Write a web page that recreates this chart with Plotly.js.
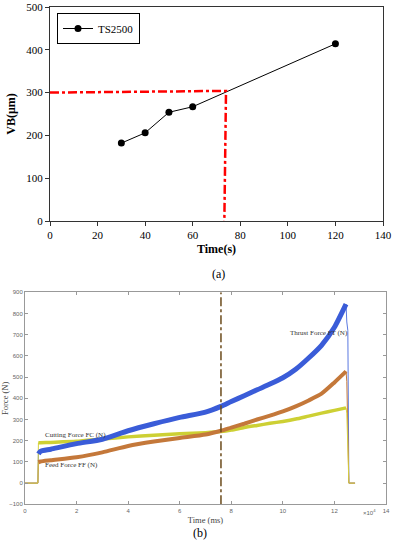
<!DOCTYPE html>
<html>
<head>
<meta charset="utf-8">
<script src="https://cdn.plot.ly/plotly-3.0.1.min.js"></script>
<style>html,body{margin:0;padding:0;background:#fff;}#chart{width:396px;height:550px;}</style>
</head>
<body>
<div id="chart"></div>
<script>
// ---- (a) tool wear ----
const wearTime = [30, 40, 50, 60, 120];
const wearVB = [182, 206, 254, 267, 414];
const limitX = [0, 74, 73.3];
const limitY = [300, 304, 0];

// ---- (b) force signals ----
const forceTime = [0, 0.5, 0.52, 0.6, 1, 2, 3, 4, 5, 6, 7, 7.6, 8, 8.5, 9, 9.5, 10, 10.5, 11, 11.5, 12, 12.45, 12.48, 12.52, 12.56, 12.8];
const thrustForce = [0, 0, 138, 150, 160, 186, 207, 247, 280, 310, 335, 362, 385, 412, 440, 467, 497, 537, 590, 650, 735, 844, 760, 720, 0, 0];
const feedForce   = [0, 0, 98, 102, 108, 122, 145, 175, 196, 213, 229, 247, 262, 280, 300, 318, 338, 362, 390, 422, 475, 527, 480, 300, 0, 0];
const cutForce    = [0, 0, 190, 190, 192, 197, 208, 218, 226, 233, 238, 243, 250, 262, 272, 282, 291, 302, 316, 330, 343, 355, 330, 200, 0, 0];
const markerTime = [7.6, 7.6];
const markerForce = [-100, 900];

// cutting phase (thick band) runs from index 2 to 21 of the force arrays
const cutStart = 2, cutEnd = 22;
const sl = a => a.slice(cutStart, cutEnd);

const serif = 'Liberation Serif, Times New Roman, serif';
const sans = 'Liberation Sans, Arial, sans-serif';

const traces = [
  {x: wearTime, y: wearVB, type: 'scatter', mode: 'lines+markers', name: 'TS2500',
   line: {color: '#000', width: 1}, marker: {color: '#000', size: 7}, xaxis: 'x', yaxis: 'y', showlegend: true},
  {x: limitX, y: limitY, type: 'scatter', mode: 'lines', line: {color: '#ff0000', width: 2.5, dash: 'dashdot'},
   xaxis: 'x', yaxis: 'y', showlegend: false, hoverinfo: 'skip'},
  // thin full signals
  {x: forceTime, y: thrustForce, type: 'scatter', mode: 'lines', line: {color: '#5a78e0', width: 1},
   xaxis: 'x2', yaxis: 'y2', showlegend: false, hoverinfo: 'skip'},
  {x: forceTime, y: feedForce, type: 'scatter', mode: 'lines', line: {color: '#c4783a', width: 1},
   xaxis: 'x2', yaxis: 'y2', showlegend: false, hoverinfo: 'skip'},
  {x: forceTime, y: cutForce, type: 'scatter', mode: 'lines', line: {color: '#d6d040', width: 1},
   xaxis: 'x2', yaxis: 'y2', showlegend: false, hoverinfo: 'skip'},
  // thick cutting-phase bands
  {x: sl(forceTime), y: sl(cutForce), type: 'scatter', mode: 'lines', name: 'Cutting Force FC (N)',
   line: {color: '#cdd034', width: 3.5, shape: 'spline', smoothing: 0.6}, xaxis: 'x2', yaxis: 'y2', showlegend: false},
  {x: sl(forceTime), y: sl(feedForce), type: 'scatter', mode: 'lines', name: 'Feed Force FF (N)',
   line: {color: '#c4783a', width: 4, shape: 'spline', smoothing: 0.6}, xaxis: 'x2', yaxis: 'y2', showlegend: false},
  {x: sl(forceTime), y: sl(thrustForce), type: 'scatter', mode: 'lines', name: 'Thrust Force FT (N)',
   line: {color: '#3a5cd8', width: 5, shape: 'spline', smoothing: 0.6}, xaxis: 'x2', yaxis: 'y2', showlegend: false},
  {x: markerTime, y: markerForce, type: 'scatter', mode: 'lines', line: {color: '#6b4a1a', width: 1.5, dash: 'dashdot'},
   xaxis: 'x2', yaxis: 'y2', showlegend: false, hoverinfo: 'skip'}
];

const W = 396, H = 550;
const layout = {
  width: W, height: H,
  margin: {l: 0, r: 0, t: 0, b: 0},
  paper_bgcolor: '#fff', plot_bgcolor: '#fff',
  showlegend: true,
  legend: {x: 57/W, y: 1 - 13/H, xanchor: 'left', yanchor: 'top', bgcolor: '#fff', bordercolor: '#000', borderwidth: 1,
           font: {family: serif, size: 11, color: '#000'}},
  xaxis: {domain: [50/W, 383/W], range: [0, 140], dtick: 20, showgrid: false, zeroline: false,
          showline: true, linecolor: '#333', linewidth: 1, mirror: true, ticks: 'outside', ticklen: 4, tickcolor: '#333',
          tickfont: {family: serif, size: 11, color: '#000'}, anchor: 'y',
          title: {text: '<b>Time(s)</b>', font: {family: serif, size: 12, color: '#000'}, standoff: 4}},
  yaxis: {domain: [1 - 221/H, 1 - 7/H], range: [0, 500], dtick: 100, showgrid: false, zeroline: false,
          showline: true, linecolor: '#333', linewidth: 1, mirror: true, ticks: 'outside', ticklen: 4, tickcolor: '#333',
          tickfont: {family: serif, size: 11, color: '#000'}, anchor: 'x',
          title: {text: '<b>VB(μm)</b>', font: {family: serif, size: 12, color: '#000'}, standoff: 8}},
  xaxis2: {domain: [25/W, 386/W], range: [0, 14], dtick: 2, showgrid: false, zeroline: false,
           showline: true, linecolor: '#999', linewidth: 1, mirror: 'ticks', ticks: 'inside', ticklen: 3, tickcolor: '#999',
           tickfont: {family: sans, size: 6, color: '#666'}, anchor: 'y2',
           title: {text: 'Time (ms)', font: {family: serif, size: 8.5, color: '#444'}, standoff: 4}},
  yaxis2: {domain: [1 - 504.3/H, 1 - 292.3/H], range: [-100, 900], dtick: 100, showgrid: false, zeroline: false,
           showline: true, linecolor: '#999', linewidth: 1, mirror: 'ticks', ticks: 'inside', ticklen: 3, tickcolor: '#999',
           tickfont: {family: sans, size: 6, color: '#666'}, anchor: 'x2',
           title: {text: 'Force (N)', font: {family: serif, size: 8.5, color: '#444'}, standoff: 4}},
  annotations: [
    {text: '(a)', x: 218/W, y: 1 - 274/H, xref: 'paper', yref: 'paper', showarrow: false,
     font: {family: serif, size: 12, color: '#000'}},
    {text: '(b)', x: 200/W, y: 1 - 542/H, xref: 'paper', yref: 'paper', showarrow: false,
     font: {family: serif, size: 12, color: '#000'}},
    {text: 'Cutting Force FC (N)', x: 0.7, y: 225, xref: 'x2', yref: 'y2', xanchor: 'left', yanchor: 'middle', showarrow: false,
     font: {family: serif, size: 7, color: '#333'}},
    {text: 'Feed Force FF (N)', x: 0.7, y: 85, xref: 'x2', yref: 'y2', xanchor: 'left', yanchor: 'middle', showarrow: false,
     font: {family: serif, size: 7, color: '#333'}},
    {text: 'Thrust Force FT (N)', x: 10.2, y: 710, xref: 'x2', yref: 'y2', xanchor: 'left', yanchor: 'middle', showarrow: false,
     font: {family: serif, size: 7, color: '#333'}},
    {text: '×10<sup>4</sup>', x: 378/W, y: 1 - 518/H, xref: 'paper', yref: 'paper', showarrow: false,
     font: {family: sans, size: 6, color: '#666'}}
  ]
};

Plotly.newPlot('chart', traces, layout, {displayModeBar: false, staticPlot: true});
</script>
</body>
</html>
